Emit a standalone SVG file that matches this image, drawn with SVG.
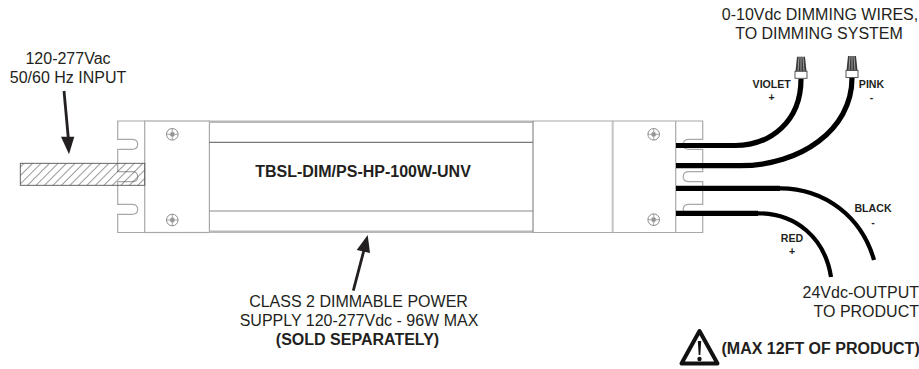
<svg xmlns="http://www.w3.org/2000/svg" width="919" height="369" viewBox="0 0 919 369">
<style>
text{font-family:"Liberation Sans",Arial,sans-serif;fill:#231f20}
.l{font-size:16px;text-anchor:middle}
.r{font-size:16px;text-anchor:end}
.s{font-size:10.6px;font-weight:bold;text-anchor:middle}
.g{fill:none;stroke:#a8a8a8;stroke-width:1.2}
.w{fill:none;stroke:#000;stroke-width:5.2}
.t{fill:none;stroke:#000;stroke-width:4.2}
.sc{fill:#fff;stroke:#808080;stroke-width:.9}
.a{fill:none;stroke:#231f20;stroke-width:2.8}
</style>
<defs>
<pattern id="h" width="6" height="6" patternUnits="userSpaceOnUse" patternTransform="rotate(45)">
<line x1="0" y1="0" x2="0" y2="6" stroke="#333" stroke-width="1"/>
</pattern>
<g id="screw"><circle r="5.8" class="sc"/><path d="M-5.800 0H5.800M0-5.800V5.800M-2.500-1H2.500M-2.500 1H2.500M-1-2.500V2.500M1-2.500V2.500" fill="none" stroke="#808080" stroke-width=".7"/></g>
<g id="nut"><path d="M-4-21.500L-5.500-7H5.500L4-21.500Z" fill="#3a3a3a"/><path d="M-2-21.500L-3-7M0-21.500V-7M2-21.500L3-7" stroke="#ccc" stroke-width=".7"/><rect x="-6" y="-7" width="12" height="7" fill="#fff" stroke="#444" stroke-width=".9"/></g>
</defs>
<g id="power-supply">
<path class="g" d="M145 121H117.700V139.300H132Q137.700 139.300 137.700 144.300Q137.700 149.300 132 149.300H117.700V171.700H132Q137.700 171.700 137.700 176.700Q137.700 181.700 132 181.700H117.700V204.300H132Q137.700 204.300 137.700 209.300Q137.700 214.300 132 214.300H117.700V232.500H145"/>
<rect class="g" x="144.700" y="121" width="64.700" height="111.500"/>
<path d="M209.300 121.700H533M209.300 231.800H533" fill="none" stroke="#b8b8b8" stroke-width="2.600"/>
<path d="M533 121H613M533 232.500H613" fill="none" stroke="#a8a8a8" stroke-width="1.200"/>
<path d="M209.300 142.300H533" fill="none" stroke="#58585a" stroke-width="1"/>
<path d="M209.300 211H533" fill="none" stroke="#8a8a8a" stroke-width="1"/>
<path fill="none" stroke="#8a8a8a" stroke-width="1.200" d="M533 121V232.500"/>
<path fill="none" stroke="#c4c4c4" stroke-width="2" d="M612.700 121V232.500"/>
<path class="g" d="M612.700 121H702.700V139.300H689Q683.200 139.300 683.200 144.300Q683.200 149.300 689 149.300H702.700V171.700H689Q683.200 171.700 683.200 176.700Q683.200 181.700 689 181.700H702.700V204.300H689Q683.200 204.300 683.200 209.300Q683.200 214.300 689 214.300H702.700V232.500H612.700"/>
<path class="g" d="M675.700 121V232.500"/>
<use href="#screw" x="172.300" y="134.300"/>
<use href="#screw" x="172.300" y="220"/>
<use href="#screw" x="653.700" y="134.300"/>
<use href="#screw" x="653.700" y="219.700"/>
<text x="363" y="177" font-size="16" font-weight="bold" text-anchor="middle">TBSL-DIM/PS-HP-100W-UNV</text>
</g>
<g id="input-cable">
<rect x="20.300" y="163.300" width="124.500" height="22" fill="url(#h)" stroke="#555" stroke-width=".9"/>
</g>
<g id="connectors">
<path class="a" d="M64 91L68.300 138"/>
<path d="M61 136.700L74.300 136.700L69 154.300Z" fill="#231f20"/>
<path class="a" d="M353.300 290.700L364 250"/>
<path d="M356.700 250L367.700 235L370 253Z" fill="#231f20"/>
<path class="w" d="M676 145.500H735C770 145.500 801 122 801 79"/>
<path class="w" d="M676 165.700H740C800 165.700 852 130 852 78"/>
<path class="w" d="M676 188.300H780"/>
<path class="t" d="M780 188.300C826 188.300 862 218 874 260"/>
<path class="w" d="M676 213.300H758"/>
<path class="t" d="M758 213.300C796 213.300 825 238 831 277"/>
</g>
<g id="wire-nuts">
<use href="#nut" x="801" y="78.300"/>
<use href="#nut" x="852" y="77.500"/>
</g>
<g id="labels">
<text class="l" x="820" y="20">0-10Vdc DIMMING WIRES,</text>
<text class="l" x="819" y="39">TO DIMMING SYSTEM</text>
<text class="l" x="68" y="64">120-277Vac</text>
<text class="l" x="68" y="83">50/60 Hz INPUT</text>
<text class="s" x="771.700" y="88">VIOLET</text>
<text class="s" x="771.700" y="101">+</text>
<text class="s" x="871.500" y="88">PINK</text>
<text class="s" x="871.500" y="101">-</text>
<text class="s" x="873" y="212">BLACK</text>
<text class="s" x="873" y="226">-</text>
<text class="s" x="792" y="242">RED</text>
<text class="s" x="792" y="255">+</text>
<text class="r" x="919" y="298">24Vdc-OUTPUT</text>
<text class="r" x="919" y="317">TO PRODUCT</text>
<text class="l" x="358.500" y="307">CLASS 2 DIMMABLE POWER</text>
<text class="l" x="359" y="326">SUPPLY 120-277Vdc - 96W MAX</text>
<text class="l" x="357.500" y="345" font-weight="bold">(SOLD SEPARATELY)</text>
<text x="721.500" y="354" font-size="16" font-weight="bold">(MAX 12FT OF PRODUCT)</text>
</g>
<g id="warning">
<path d="M699.500 331L681.500 363.500H717.500Z" fill="none" stroke="#111" stroke-width="4" stroke-linejoin="round"/>
<path d="M697.800 341H701.200L700.300 355H698.700Z" fill="#111"/>
<circle cx="699.500" cy="359" r="2.200" fill="#111"/>
</g>
</svg>
